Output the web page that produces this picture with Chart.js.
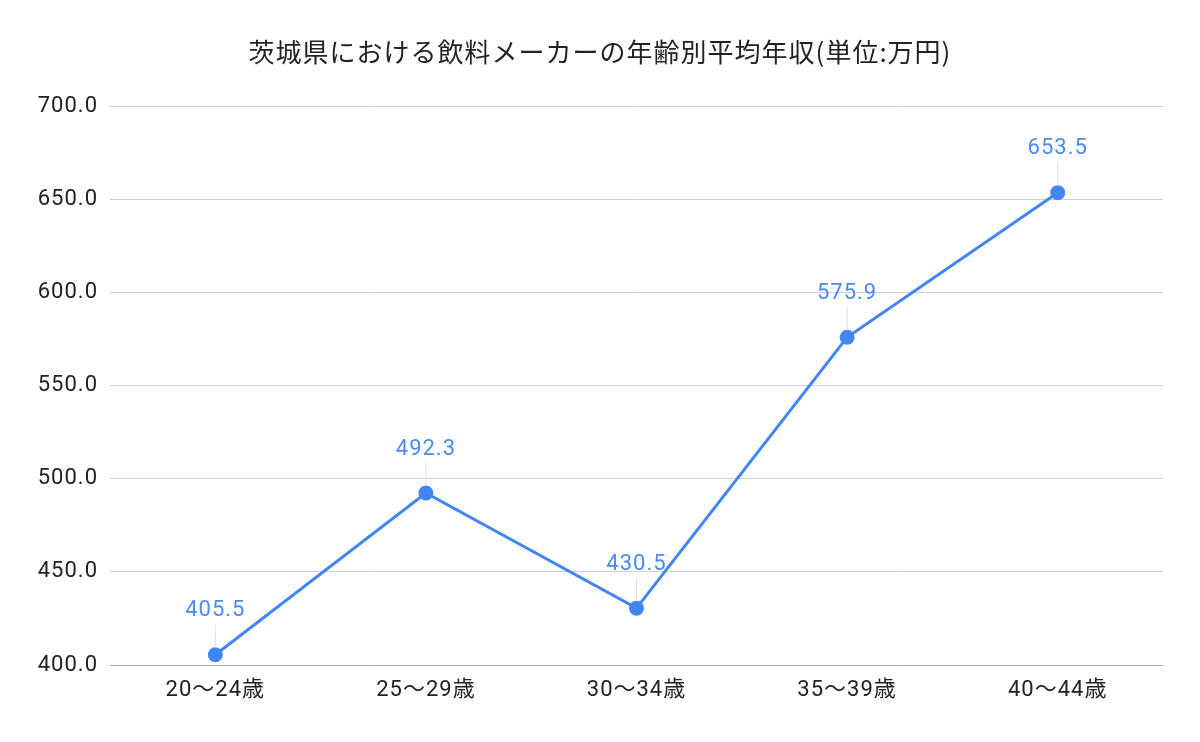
<!DOCTYPE html>
<html>
<head>
<meta charset="utf-8">
<script src="https://cdn.jsdelivr.net/npm/chart.js@4"></script>
<style>
  body { margin: 0; background: #fff; }
  #wrap { width: 1200px; height: 742px; }
</style>
</head>
<body>
<div id="wrap"><canvas id="myChart" width="1200" height="742"></canvas></div>
<script>
const categories = ['20～24歳', '25～29歳', '30～34歳', '35～39歳', '40～44歳'];
const incomes = [405.5, 492.3, 430.5, 575.9, 653.5];
const titleText = '茨城県における飲料メーカーの年齢別平均年収(単位:万円)';

// the reference text is a little wider than plain Roboto, so add some spacing
const spacing = {
  id: 'spacing',
  beforeLayout(chart) { chart.ctx.letterSpacing = '1px'; },
  beforeDraw(chart) { chart.ctx.letterSpacing = '1px'; }
};

// title centred on the whole canvas (Chart.js title would centre on the padded box)
const pageTitle = {
  id: 'pageTitle',
  afterDraw(chart) {
    const ctx = chart.ctx;
    ctx.save();
    ctx.fillStyle = '#222';
    ctx.font = "26px 'Noto Sans CJK JP', Roboto, sans-serif";
    ctx.textAlign = 'center';
    ctx.textBaseline = 'middle';
    ctx.fillText(titleText, chart.width / 2, 52);
    ctx.restore();
  }
};

// labels above each point with a thin leader line
const valueLabels = {
  id: 'valueLabels',
  afterDatasetsDraw(chart) {
    const ctx = chart.ctx;
    const meta = chart.getDatasetMeta(0);
    ctx.save();
    meta.data.forEach((pt, i) => {
      ctx.strokeStyle = '#e0e0e0';
      ctx.lineWidth = 1;
      ctx.beginPath();
      ctx.moveTo(pt.x, pt.y - 30);
      ctx.lineTo(pt.x, pt.y - 7);
      ctx.stroke();
      ctx.fillStyle = '#4a8af4';
      ctx.font = "22px Roboto, 'Noto Sans', sans-serif";
      ctx.textAlign = 'center';
      ctx.textBaseline = 'middle';
      ctx.fillText(incomes[i].toFixed(1), pt.x, pt.y - 44);
    });
    ctx.restore();
  }
};

const ctx = document.getElementById('myChart').getContext('2d');
new Chart(ctx, {
  type: 'line',
  data: {
    labels: categories,
    datasets: [{
      data: incomes,
      borderColor: '#4285f4',
      backgroundColor: '#4285f4',
      borderWidth: 3,
      pointRadius: 6,
      pointHoverRadius: 6,
      tension: 0
    }]
  },
  options: {
    responsive: false,
    animation: false,
    layout: { padding: { left: 0, right: 37, top: 106, bottom: 0 } },
    plugins: {
      legend: { display: false },
      tooltip: { enabled: false },
      title: { display: false }
    },
    scales: {
      x: {
        offset: true,
        grid: { display: false, drawTicks: false },
        border: { display: false },
        ticks: {
          color: '#222',
          font: { family: "Roboto, 'Noto Sans CJK JP', sans-serif", size: 22 },
          padding: 12,
          maxRotation: 0
        },
        afterFit(scale) { scale.height = 77; }
      },
      y: {
        min: 400,
        max: 700,
        grid: {
          color: (c) => c.tick && c.tick.value === 400 ? '#aaa' : '#d0d0d0',
          lineWidth: 1,
          drawTicks: false
        },
        border: { display: false },
        ticks: {
          stepSize: 50,
          color: '#222',
          font: { family: "Roboto, 'Noto Sans', sans-serif", size: 22 },
          padding: 12,
          callback: (v) => Number(v).toFixed(1)
        },
        afterFit(scale) { scale.width = 110; }
      }
    }
  },
  plugins: [spacing, valueLabels, pageTitle]
});
</script>
</body>
</html>
